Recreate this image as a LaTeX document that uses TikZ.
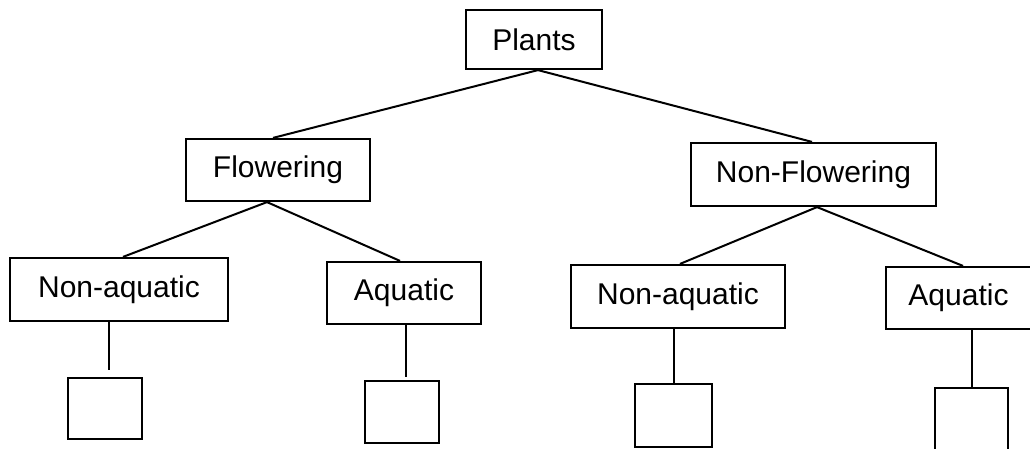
\documentclass[tikz,border=0pt]{standalone}
\usepackage{fontspec}
\setmainfont{Liberation Sans}
\begin{document}
\begin{tikzpicture}[x=1pt,y=-1pt,
  box/.style={draw,line width=2.2pt,rectangle,inner sep=0pt,
              font=\fontsize{30}{32}\selectfont},
  leaf/.style={draw,line width=2.2pt,rectangle,inner sep=0pt},
  link/.style={line width=2pt}]
\useasboundingbox (0,0) rectangle (1030,448);

% categories
\node[box,minimum width=136pt,minimum height=59pt] (plants)  at (534,39.5)  {Plants};
\node[box,minimum width=184pt,minimum height=62pt] (flow)    at (278,170)   {Flowering};
\node[box,minimum width=245pt,minimum height=63pt] (nonflow) at (813.5,174.5) {Non-Flowering};
\node[box,minimum width=218pt,minimum height=63pt] (naA)     at (119,289.5) {Non-aquatic};
\node[box,minimum width=154pt,minimum height=62pt] (aqA)     at (404,293)   {Aquatic};
\node[box,minimum width=214pt,minimum height=63pt] (naB)     at (678,296.5) {Non-aquatic};
\node[box,minimum width=145pt,minimum height=62pt] (aqB)     at (958.5,298) {Aquatic};

% empty boxes to fill in
\node[leaf,minimum width=74pt,minimum height=61pt] (bA) at (105,408.5) {};
\node[leaf,minimum width=74pt,minimum height=62pt] (bB) at (402,412)   {};
\node[leaf,minimum width=77pt,minimum height=63pt] (bC) at (673.5,415.5) {};
\node[leaf,minimum width=73pt,minimum height=62pt] (bD) at (971.5,419) {};

% branches
\draw[link] ([xshift=4pt]plants.south) -- ([xshift=-5pt]flow.north);
\draw[link] ([xshift=4pt]plants.south) -- ([xshift=-1.5pt]nonflow.north);
\draw[link] ([xshift=-11pt]flow.south) -- ([xshift=4pt]naA.north);
\draw[link] ([xshift=-11pt]flow.south) -- ([xshift=-4pt]aqA.north);
\draw[link] ([xshift=3.5pt]nonflow.south) -- ([xshift=2pt]naB.north);
\draw[link] ([xshift=3.5pt]nonflow.south) -- ([xshift=4.5pt]aqB.north);

% stems down to the empty boxes
\draw[link,shorten >=7pt] ([xshift=4pt]bA.north |- naA.south) -- ([xshift=4pt]bA.north);
\draw[link,shorten >=3pt] ([xshift=4pt]bB.north |- aqA.south) -- ([xshift=4pt]bB.north);
\draw[link] (bC.north |- naB.south) -- (bC.north);
\draw[link] (bD.north |- aqB.south) -- (bD.north);
\end{tikzpicture}
\end{document}
